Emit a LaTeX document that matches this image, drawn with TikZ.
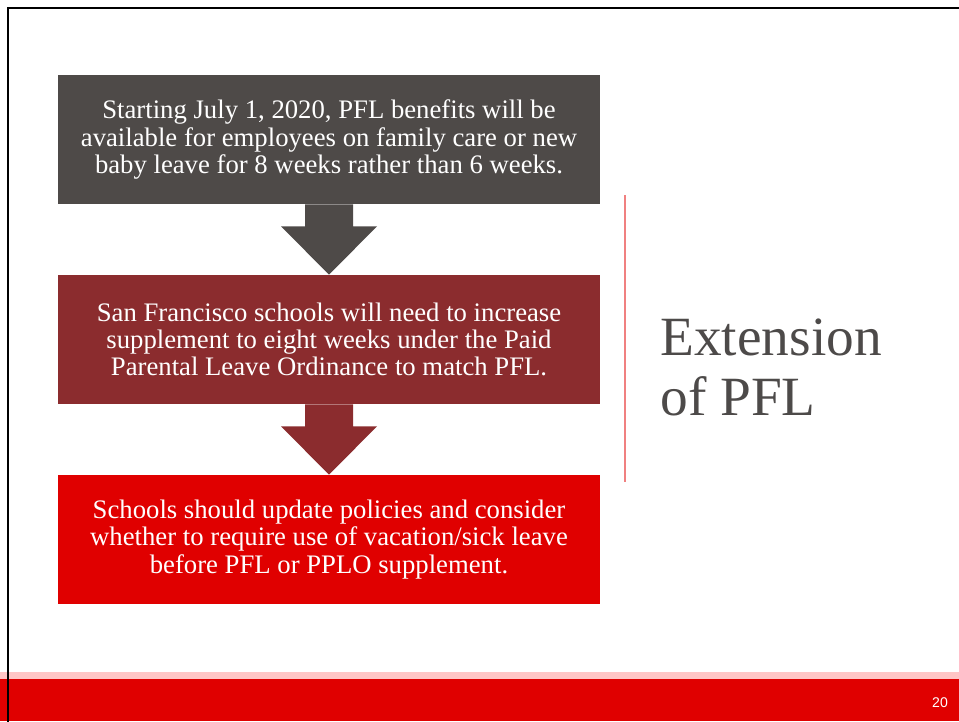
\documentclass[tikz,border=0pt]{standalone}
\usepackage{fontspec}
\setmainfont{Liberation Serif}
\newfontfamily\pagefont{Liberation Sans}
\usetikzlibrary{calc}

\definecolor{pflgrey}{RGB}{78,74,72}
\definecolor{pflmaroon}{RGB}{139,44,46}
\definecolor{pflred}{RGB}{224,0,0}
\definecolor{pflpink}{RGB}{255,197,197}
\definecolor{pflrule}{RGB}{240,128,128}
\definecolor{pfltitle}{RGB}{77,74,73}

\tikzset{
  stepbox/.style={minimum width=10.84cm, minimum height=2.58cm, inner sep=0pt,
    align=center, text=white, font=\fontsize{15.2}{15.6}\selectfont},
}

\begin{document}
\begin{tikzpicture}[scale=1.0]
\useasboundingbox (0,0) rectangle (19.18,14.42);

% footer bar
\fill[pflred] (0,0) rectangle (19.18,0.84);
\fill[pflpink] (0,0.84) rectangle (19.18,0.98);
\node[text=white, font=\pagefont\fontsize{8}{9}\selectfont] (pgnum) at (18.8,0.36) {20};

% the three steps
\node[stepbox, fill=pflgrey] (box1) at (6.58,11.63)
  {Starting July 1, 2020, PFL benefits will be\\
   available for employees on family care or new\\
   baby leave for 8 weeks rather than 6 weeks.};
\node[stepbox, fill=pflmaroon] (box2) at (6.58,7.63)
  {San Francisco schools will need to increase\\
   supplement to eight weeks under the Paid\\
   Parental Leave Ordinance to match PFL.};
\node[stepbox, fill=pflred] (box3) at (6.58,3.63)
  {Schools should update policies and consider\\
   whether to require use of vacation/sick leave\\
   before PFL or PPLO supplement.};

% block arrows between the steps
\fill[pflgrey] ($(box1.south)+(-0.48,0)$) -- ++(0,-0.44) -- ++(-0.48,0) -- (box2.north)
  -- ($(box1.south)+(0.96,-0.44)$) -- ++(-0.48,0) -- ++(0,0.44) -- cycle;
\fill[pflmaroon] ($(box2.south)+(-0.48,0)$) -- ++(0,-0.44) -- ++(-0.48,0) -- (box3.north)
  -- ($(box2.south)+(0.96,-0.44)$) -- ++(-0.48,0) -- ++(0,0.44) -- cycle;

% title on the right (base is the last line)
\draw[pflrule, line width=0.6pt] (12.5,10.52) -- (12.5,4.78);
\node[anchor=base west, align=left, inner sep=0pt, text=pfltitle,
  font=\fontsize{31.5}{34}\selectfont] (title) at (13.2,6.12) {Extension\\of PFL};

% slide frame
\draw[black, line width=1.4pt] (0.16,-1) -- (0.16,14.26) -- (20,14.26);
\end{tikzpicture}
\end{document}
